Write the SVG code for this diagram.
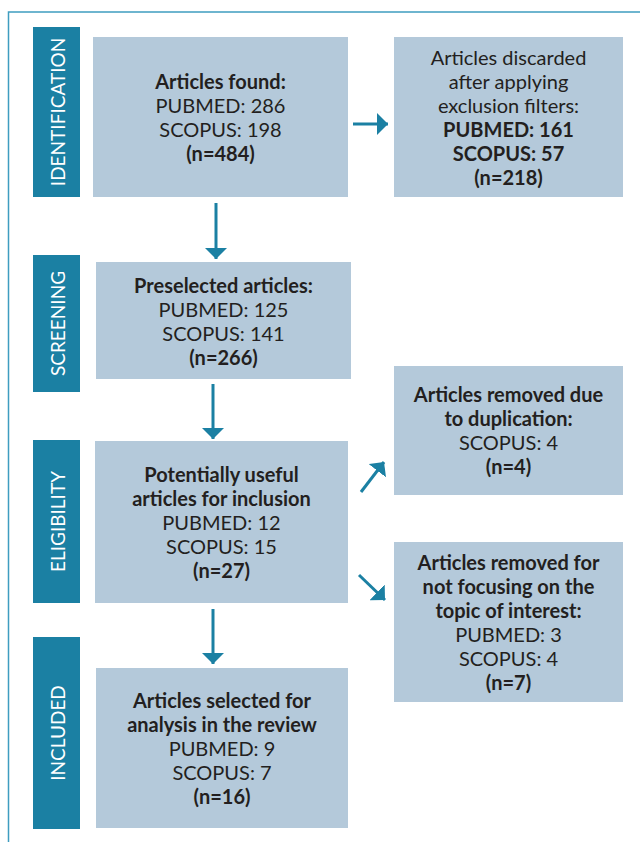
<svg xmlns="http://www.w3.org/2000/svg" width="640" height="842" viewBox="0 0 640 842">
<style>
.frame{fill:none;stroke:#3f9dc0;stroke-width:1.5}
.stage rect{fill:#1b80a3}
.stage text{fill:#ffffff;font-family:Lato,"Open Sans",sans-serif;font-size:19px;text-anchor:middle}
.box rect{fill:#b4c9da}
.box text{fill:#231f20;font-family:Lato,"Open Sans",sans-serif;font-size:20px;text-anchor:middle}
.b{font-weight:bold}
.conn line{stroke:#1b80a3;stroke-width:3;marker-end:url(#ah)}
</style>
<defs>
<marker id="ah" markerUnits="userSpaceOnUse" markerWidth="12" markerHeight="22" refX="11" refY="11" orient="auto">
<path d="M0,0 L11,11 L0,22 Z" fill="#1b80a3"/>
</marker>
</defs>
<rect width="640" height="842" fill="#ffffff"/>
<path class="frame" d="M8.5,842 V12 H640"/>

<g id="stage-identification" class="stage">
<rect x="33" y="27" width="47" height="170"/>
<text transform="translate(64.5,112) rotate(-90)">IDENTIFICATION</text>
</g>
<g id="stage-screening" class="stage">
<rect x="33" y="255" width="47" height="137"/>
<text transform="translate(64.5,323.5) rotate(-90)">SCREENING</text>
</g>
<g id="stage-eligibility" class="stage">
<rect x="33" y="440" width="47" height="163"/>
<text transform="translate(64.5,521.5) rotate(-90)">ELIGIBILITY</text>
</g>
<g id="stage-included" class="stage">
<rect x="33" y="637" width="47" height="192"/>
<text transform="translate(64.5,733) rotate(-90)">INCLUDED</text>
</g>

<g id="box-found" class="box">
<rect x="93" y="37" width="255" height="160"/>
<text x="220.5" y="89" class="b">Articles found:</text>
<text x="220.5" y="113">PUBMED: 286</text>
<text x="220.5" y="137">SCOPUS: 198</text>
<text x="220.5" y="161" class="b">(n=484)</text>
</g>
<g id="box-discarded" class="box">
<rect x="394" y="37" width="229" height="160"/>
<text x="508.5" y="65">Articles discarded</text>
<text x="508.5" y="89">after applying</text>
<text x="508.5" y="113">exclusion filters:</text>
<text x="508.5" y="137" class="b">PUBMED: 161</text>
<text x="508.5" y="161" class="b">SCOPUS: 57</text>
<text x="508.5" y="185" class="b">(n=218)</text>
</g>
<g id="box-preselected" class="box">
<rect x="96" y="262" width="255" height="117"/>
<text x="223.5" y="292.5" class="b">Preselected articles:</text>
<text x="223.5" y="316.5">PUBMED: 125</text>
<text x="223.5" y="340.5">SCOPUS: 141</text>
<text x="223.5" y="364.5" class="b">(n=266)</text>
</g>
<g id="box-useful" class="box">
<rect x="95" y="441" width="253" height="162"/>
<text x="221.5" y="482" class="b">Potentially useful</text>
<text x="221.5" y="506" class="b">articles for inclusion</text>
<text x="221.5" y="530">PUBMED: 12</text>
<text x="221.5" y="554">SCOPUS: 15</text>
<text x="221.5" y="578" class="b">(n=27)</text>
</g>
<g id="box-duplication" class="box">
<rect x="394" y="366" width="229" height="129"/>
<text x="508.5" y="402" class="b">Articles removed due</text>
<text x="508.5" y="426" class="b">to duplication:</text>
<text x="508.5" y="450">SCOPUS: 4</text>
<text x="508.5" y="474" class="b">(n=4)</text>
</g>
<g id="box-topic" class="box">
<rect x="394" y="542" width="229" height="160"/>
<text x="508.5" y="570" class="b">Articles removed for</text>
<text x="508.5" y="594" class="b">not focusing on the</text>
<text x="508.5" y="618" class="b">topic of interest:</text>
<text x="508.5" y="642">PUBMED: 3</text>
<text x="508.5" y="666">SCOPUS: 4</text>
<text x="508.5" y="690" class="b">(n=7)</text>
</g>
<g id="box-selected" class="box">
<rect x="96" y="668" width="252" height="160"/>
<text x="222" y="708" class="b">Articles selected for</text>
<text x="222" y="732" class="b">analysis in the review</text>
<text x="222" y="756">PUBMED: 9</text>
<text x="222" y="780">SCOPUS: 7</text>
<text x="222" y="804" class="b">(n=16)</text>
</g>

<g id="connectors" class="conn">
<line x1="353" y1="124" x2="388" y2="124"/>
<line x1="216" y1="203" x2="216" y2="259"/>
<line x1="213" y1="384" x2="213" y2="439"/>
<line x1="213" y1="609" x2="213" y2="664"/>
<line x1="361" y1="492" x2="384" y2="462"/>
<line x1="359" y1="575" x2="385" y2="600"/>
</g>
</svg>
